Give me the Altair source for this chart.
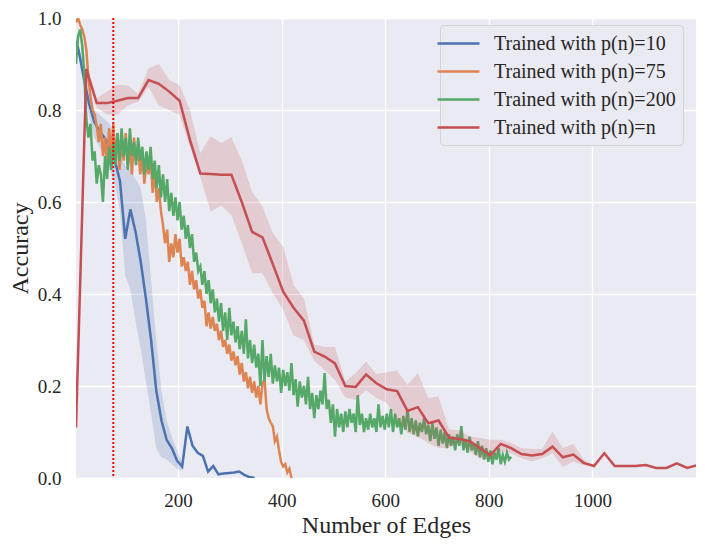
import altair as alt
import pandas as pd

names = ["Trained with p(n)=10", "Trained with p(n)=75",
         "Trained with p(n)=200", "Trained with p(n)=n"]
colors = ["#4C72B0", "#DD8452", "#55A868", "#C44E52"]

# p(n)=10 (blue) with confidence band
blue_x = [3, 8, 18, 28, 38, 48, 58, 68, 78, 88, 98, 108, 118, 128, 138, 148, 158, 168,
          178, 188, 198, 208, 218, 228, 238, 248, 258, 268, 278, 288, 298, 308, 318,
          328, 338, 348]
blue_y = [0.95, 0.93, 0.87, 0.815, 0.775, 0.755, 0.74, 0.72, 0.69, 0.645,
          0.52, 0.584, 0.535, 0.47, 0.39, 0.30, 0.19, 0.125, 0.083, 0.065,
          0.038, 0.025, 0.112, 0.07, 0.055, 0.048, 0.014, 0.026, 0.008, 0.01,
          0.011, 0.012, 0.014, 0.007, 0.002, 0.0]
blue_lo = [0.94, 0.92, 0.85, 0.79, 0.74, 0.72, 0.70, 0.67, 0.64, 0.58,
           0.44, 0.41, 0.34, 0.28, 0.21, 0.14, 0.065, 0.045, 0.04, 0.03,
           0.02, 0.015, 0.112]
blue_hi = [0.96, 0.94, 0.89, 0.84, 0.80, 0.79, 0.78, 0.77, 0.73, 0.70,
           0.68, 0.67, 0.65, 0.63, 0.56, 0.43, 0.30, 0.19, 0.125, 0.09,
           0.06, 0.035, 0.112]

# p(n)=75 (orange), x = 3, 7, 11, ...
orange_y = [0.99, 1.0, 0.985, 0.975, 0.96, 0.93, 0.87, 0.83, 0.80, 0.79,
            0.765, 0.73, 0.77, 0.70, 0.74, 0.68, 0.76, 0.70, 0.77, 0.69,
            0.75, 0.67, 0.73, 0.69, 0.75, 0.68, 0.72, 0.66, 0.74, 0.69,
            0.72, 0.66, 0.70, 0.64, 0.69, 0.66, 0.70, 0.62, 0.67, 0.60,
            0.63, 0.58, 0.55, 0.51, 0.54, 0.47, 0.51, 0.48, 0.53, 0.49,
            0.52, 0.46, 0.48, 0.45, 0.47, 0.42, 0.45, 0.41, 0.43, 0.39,
            0.41, 0.37, 0.385, 0.33, 0.36, 0.325, 0.35, 0.32, 0.335, 0.30,
            0.32, 0.285, 0.30, 0.27, 0.29, 0.255, 0.275, 0.245, 0.265, 0.225,
            0.25, 0.21, 0.23, 0.195, 0.22, 0.185, 0.21, 0.175, 0.20, 0.16,
            0.205, 0.215, 0.15, 0.13, 0.12, 0.112, 0.08, 0.09, 0.06, 0.035,
            0.025, 0.03, 0.012, 0.02, 0.0]

# p(n)=200 (green), x = 3, 7, 11, ...
green_y = [0.90, 0.96, 0.975, 0.94, 0.88, 0.78, 0.74, 0.77, 0.69, 0.71,
           0.64, 0.68, 0.66, 0.60, 0.70, 0.65, 0.72, 0.67, 0.73, 0.68,
           0.75, 0.69, 0.76, 0.70, 0.74, 0.67, 0.76, 0.70, 0.73, 0.68,
           0.74, 0.69, 0.72, 0.66, 0.71, 0.67, 0.72, 0.65, 0.69, 0.63,
           0.68, 0.61, 0.66, 0.60, 0.65, 0.58, 0.62, 0.57, 0.61, 0.56,
           0.60, 0.54, 0.57, 0.52, 0.55, 0.50, 0.53, 0.47, 0.49, 0.45,
           0.46, 0.42, 0.45, 0.40, 0.43, 0.38, 0.41, 0.36, 0.39, 0.34,
           0.38, 0.32, 0.36, 0.30, 0.37, 0.31, 0.34, 0.295, 0.33, 0.28,
           0.32, 0.27, 0.345, 0.26, 0.30, 0.25, 0.29, 0.24, 0.27, 0.20,
           0.30, 0.21, 0.265, 0.22, 0.27, 0.205, 0.245, 0.21, 0.24, 0.185,
           0.235, 0.20, 0.23, 0.19, 0.25, 0.18, 0.215, 0.155, 0.21, 0.175,
           0.20, 0.16, 0.22, 0.15, 0.185, 0.13, 0.18, 0.15, 0.19, 0.16,
           0.228, 0.15, 0.17, 0.12, 0.16, 0.09, 0.15, 0.11, 0.14, 0.10,
           0.145, 0.11, 0.15, 0.12, 0.14, 0.10, 0.18, 0.115, 0.14, 0.10,
           0.13, 0.105, 0.14, 0.11, 0.13, 0.10, 0.16, 0.11, 0.135, 0.105,
           0.14, 0.11, 0.15, 0.10, 0.14, 0.11, 0.13, 0.095, 0.135, 0.105,
           0.15, 0.10, 0.13, 0.095, 0.125, 0.09, 0.12, 0.10, 0.13, 0.095,
           0.115, 0.08, 0.12, 0.085, 0.11, 0.07, 0.105, 0.075, 0.10, 0.065,
           0.095, 0.07, 0.09, 0.06, 0.095, 0.07, 0.113, 0.06, 0.085, 0.055,
           0.09, 0.06, 0.075, 0.05, 0.08, 0.045, 0.07, 0.04, 0.065, 0.035,
           0.06, 0.03, 0.055, 0.04, 0.065, 0.03, 0.05, 0.035, 0.055, 0.04,
           0.046]

# p(n)=n (red), x = 3, 23, 43, ...
red_y = [0.11, 0.889, 0.815, 0.815, 0.82, 0.826, 0.826, 0.865, 0.857, 0.84,
         0.82, 0.735, 0.662, 0.661, 0.659, 0.659, 0.6, 0.535, 0.523, 0.465,
         0.405, 0.37, 0.342, 0.275, 0.264, 0.249, 0.2, 0.198, 0.225, 0.206,
         0.193, 0.189, 0.146, 0.154, 0.119, 0.125, 0.088, 0.085, 0.08, 0.065,
         0.05, 0.074, 0.065, 0.052, 0.049, 0.052, 0.068, 0.045, 0.051, 0.033,
         0.026, 0.054, 0.026, 0.026, 0.026, 0.028, 0.022, 0.022, 0.032, 0.022,
         0.028]
red_lo = [0.10, 0.88, 0.805, 0.79, 0.79, 0.81, 0.818, 0.85, 0.81, 0.80,
          0.789, 0.72, 0.655, 0.579, 0.593, 0.572, 0.511, 0.445, 0.445, 0.402,
          0.365, 0.31, 0.30, 0.255, 0.235, 0.213, 0.175, 0.17, 0.191, 0.174,
          0.163, 0.126, 0.098, 0.09, 0.076, 0.065, 0.065, 0.076, 0.057, 0.043,
          0.04, 0.059, 0.054, 0.043, 0.036, 0.043, 0.054, 0.024, 0.036, 0.028,
          0.026]
red_hi = [0.12, 0.90, 0.825, 0.84, 0.855, 0.853, 0.835, 0.89, 0.90, 0.865,
          0.854, 0.80, 0.706, 0.743, 0.728, 0.741, 0.691, 0.622, 0.59, 0.532,
          0.503, 0.42, 0.39, 0.29, 0.285, 0.285, 0.21, 0.228, 0.253, 0.226,
          0.23, 0.233, 0.202, 0.229, 0.174, 0.177, 0.106, 0.104, 0.09, 0.087,
          0.083, 0.083, 0.076, 0.065, 0.063, 0.063, 0.101, 0.065, 0.074, 0.04,
          0.026]

threshold_x = [75]
x_ticks = [200, 400, 600, 800, 1000]
y_ticks = [0.0, 0.2, 0.4, 0.6, 0.8, 1.0]

# ---- tables ----
orange_x = [3 + 4 * i for i in range(len(orange_y))]
green_x = [3 + 4 * i for i in range(len(green_y))]
red_x = [3 + 20 * i for i in range(len(red_y))]

lines_df = pd.concat([
    pd.DataFrame({"x": blue_x, "y": blue_y, "series": names[0]}),
    pd.DataFrame({"x": orange_x, "y": orange_y, "series": names[1]}),
    pd.DataFrame({"x": green_x, "y": green_y, "series": names[2]}),
])
red_df = pd.DataFrame({"x": red_x, "y": red_y, "series": names[3]})
blue_band = pd.DataFrame({"x": blue_x[:len(blue_lo)], "lo": blue_lo, "hi": blue_hi})
red_band = pd.DataFrame({"x": red_x[:len(red_lo)], "lo": red_lo, "hi": red_hi})
vline_df = pd.DataFrame({"x": threshold_x})

FONT = "Liberation Serif"
xscale = alt.Scale(domain=[3, 1200], nice=False, zero=False)
yscale = alt.Scale(domain=[0, 1], nice=False)
X = alt.X("x:Q", scale=xscale,
          axis=alt.Axis(values=x_ticks, format="d", title="Number of Edges"))
Y = alt.Y("y:Q", scale=yscale,
          axis=alt.Axis(values=y_ticks, format=".1f", title="Accuracy"))
color = alt.Color("series:N", scale=alt.Scale(domain=names, range=colors),
                  legend=alt.Legend(title=None))

band_blue = alt.Chart(blue_band).mark_area(color=colors[0], opacity=0.2, clip=True).encode(
    x=X, y=alt.Y("lo:Q", scale=yscale), y2="hi:Q")
band_red = alt.Chart(red_band).mark_area(color=colors[3], opacity=0.2, clip=True).encode(
    x=X, y=alt.Y("lo:Q", scale=yscale), y2="hi:Q")
lines = alt.Chart(lines_df).mark_line(strokeWidth=2.5, clip=True).encode(
    x=X, y=Y, color=color, detail="series:N", order="x:Q")
red_line = alt.Chart(red_df).mark_line(strokeWidth=2.5, clip=True).encode(
    x=X, y=Y, color=color, order="x:Q")
vline = alt.Chart(vline_df).mark_rule(color="#FF0000", strokeWidth=2,
                                       strokeDash=[2, 2]).encode(x=X)

chart = alt.layer(band_blue, lines, band_red, red_line, vline).properties(
    width=620, height=460,
    autosize=alt.AutoSizeParams(type="none"),
    padding={"left": 68, "top": 10, "right": 1, "bottom": 70},
).configure_view(
    fill="#EAEAF2", strokeWidth=0
).configure_axis(
    grid=True, gridColor="white", gridWidth=1.3, domain=False, ticks=False, tickSize=0,
    labelFont=FONT, labelFontSize=19, labelColor="#262626",
    titleFont=FONT, titleFontSize=24, titleFontWeight="normal", titleColor="#262626",
).configure_axisX(
    labelPadding=13, titlePadding=3
).configure_axisY(
    labelPadding=15, titlePadding=5
).configure_legend(
    orient="none", legendX=364, legendY=7, fillColor="#EAEAF2", strokeColor="#D2D2D8",
    cornerRadius=4, padding=7, symbolType="M-2.1,0H2.1", symbolSize=400,
    symbolStrokeWidth=2.5, labelFont=FONT, labelFontSize=20, labelColor="#262626",
    labelLimit=400, rowPadding=6, labelOffset=24,
)

chart.save("out.html", embed_options={"renderer": "svg", "actions": False})
